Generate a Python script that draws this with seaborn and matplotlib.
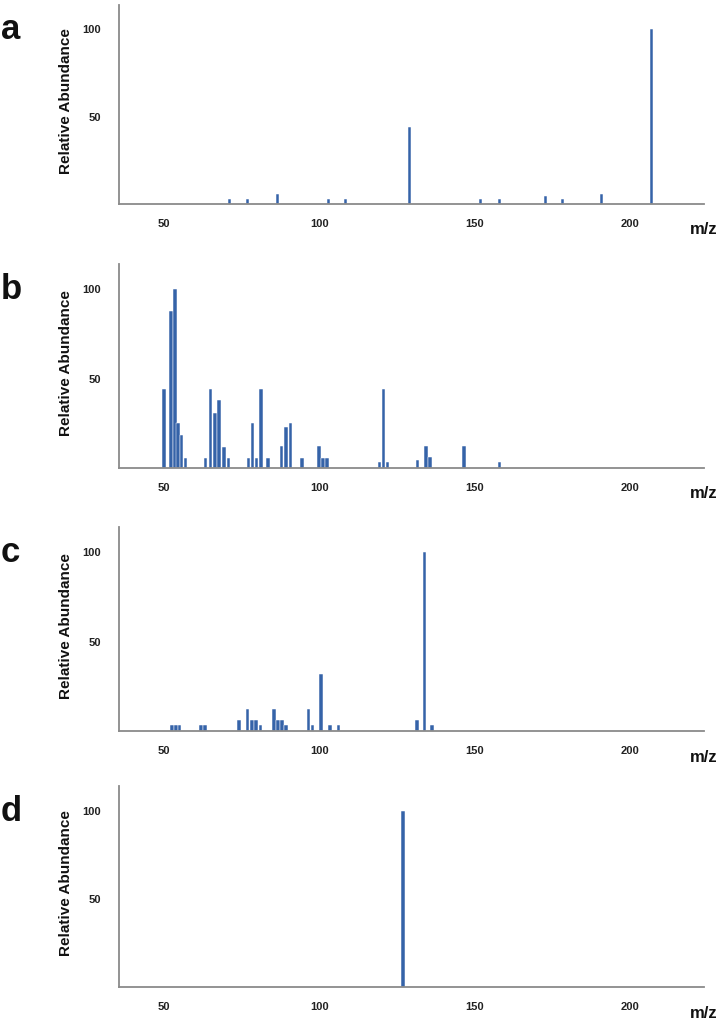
import numpy as np
import matplotlib
matplotlib.use("Agg")
import matplotlib.pyplot as plt
import seaborn as sns

# ---- data (m/z positions and relative abundances) ----
mz_a = [71, 77, 86.5, 103, 108.5, 129, 152, 158, 173, 178.5, 191, 207]
ab_a = [3, 3, 6, 3, 3, 44, 3, 3, 4.5, 3, 6, 100]

mz_b = [50, 52.2, 53.5, 54.5, 55.6, 56.9, 63.4, 65, 66.4, 67.8, 69.4, 70.8,
        77.2, 78.5, 79.8, 81.2, 83.5, 87.9, 89.4, 90.7, 94.4, 99.9, 101.3, 102.6,
        119.4, 120.7, 122, 131.7, 134.4, 135.7, 146.7, 158.1]
ab_b = [44, 88, 100, 25, 18.5, 5.5, 5.5, 44, 31, 38, 12, 5.5,
        5.5, 25, 5.5, 44, 5.5, 12.5, 23, 25, 5.5, 12.5, 5.5, 5.5,
        3.4, 44, 3.4, 4.7, 12.4, 6, 12.4, 3.4]

mz_c = [52.6, 53.8, 55, 62, 63.2, 74.2, 76.9, 78.3, 79.7, 81.1, 85.4, 86.8,
        88.1, 89.4, 96.5, 97.9, 100.5, 103.5, 106.2, 131.5, 133.9, 136.4]
ab_c = [3.4, 3.4, 3.4, 3.4, 3.4, 6.2, 12.5, 6.2, 6.2, 3.4, 12.5, 6.2,
        6.2, 3.4, 12.5, 3.4, 31.6, 3.4, 3.4, 6.2, 100, 3.4]

mz_d = [127]
ab_d = [100]

panel_labels = ["a", "b", "c", "d"]
x_ticks = [50, 100, 150, 200]
y_ticks = [50, 100]
y_label = "Relative Abundance"
x_label = "m/z"

# ---- style ----
sns.set_theme(style="white")
plt.rcParams['font.family'] = ['Liberation Sans', 'DejaVu Sans']

W, H = 719, 1019
BAR = "#3563a8"
SPINE = "#8a8a8a"

fig = plt.figure(figsize=(W / 100, H / 100), dpi=100)

series = [(mz_a, ab_a, 5, 204, 1.0),
          (mz_b, ab_b, 264, 468, 1.15),
          (mz_c, ab_c, 527, 731, 1.15),
          (mz_d, ab_d, 786, 987, 1.0)]

left_px, right_px = 119, 704
for letter, (mz, ab, top, bottom, bw) in zip(panel_labels, series):
    ax = fig.add_axes([left_px / W, 1 - bottom / H,
                       (right_px - left_px) / W, (bottom - top) / H])
    uniq = np.unique(mz)
    nat = float(np.min(np.diff(uniq))) if len(uniq) > 1 else 1.0
    sns.barplot(x=mz, y=ab, native_scale=True, width=bw / nat, color=BAR,
                saturation=1, errorbar=None, linewidth=0.35, edgecolor="white",
                ax=ax)
    ax.set_xlim(35.5, 224)
    ax.set_ylim(0, 114)
    ax.set_xticks(x_ticks, [str(t) for t in x_ticks], fontweight="bold", fontsize=8)
    ax.set_yticks(y_ticks, [str(t) for t in y_ticks], fontweight="bold", fontsize=8)
    ax.tick_params(axis="both", length=0, colors="#222222")
    ax.tick_params(axis="y", pad=13)
    ax.tick_params(axis="x", pad=11)
    for s in ["top", "right"]:
        ax.spines[s].set_visible(False)
    for s in ["left", "bottom"]:
        ax.spines[s].set_color(SPINE)
        ax.spines[s].set_linewidth(1.3)
    ax.set_xlabel("")
    ax.set_ylabel(y_label, fontsize=11, fontweight="bold", color="#111111",
                  va="center")
    ax.yaxis.set_label_coords(-0.0906, 0.515)
    h = bottom - top
    ax.text(1.0, -26 / h, x_label, transform=ax.transAxes, ha="center",
            va="center", fontsize=12, fontweight="bold", color="#111111")
    # panel letter, aligned with the 100 tick
    y100 = bottom - 100 * h / 114
    fig.text(1 / W, 1 - (y100 + 10) / H, letter, ha="left", va="baseline",
             fontsize=25, fontweight="bold", color="#111111")

fig.savefig("out.png", dpi=100, facecolor="white")
